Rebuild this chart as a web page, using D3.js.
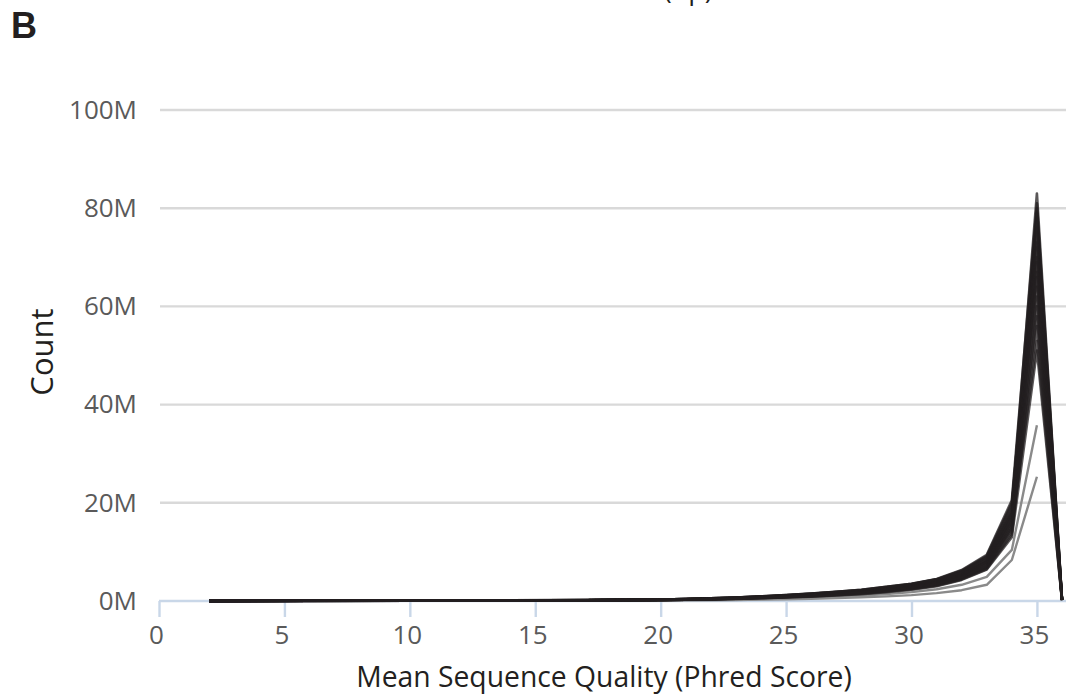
<!DOCTYPE html>
<html>
<head>
<meta charset="utf-8">
<script src="https://cdn.jsdelivr.net/npm/d3@7"></script>
<style>
  body { margin: 0; background: #fff; }
  text { font-family: "Open Sans", sans-serif; }
</style>
</head>
<body>
<script>
// phred score of each point (x axis)
const quality = [2, 6, 10, 14, 17, 20, 21, 22, 23, 24, 25, 26, 27, 28, 29, 30, 31, 32, 33, 34, 35, 36]

// read counts per sample, in millions, one value per quality above
const passSamples = [
  [.03, .05, .07, .10, .16, .28, .38, .50, .65, .85, 1.10, 1.35, 1.70, 2.1, 2.6, 3.2, 4.1, 5.8, 8.6, 18.5, 83, .25],
  [.03, .05, .08, .12, .18, .32, .42, .55, .72, .95, 1.20, 1.50, 1.85, 2.3, 2.9, 3.5, 4.5, 6.3, 9.4, 20.5, 81, .30],
  [.02, .04, .06, .09, .14, .25, .33, .44, .58, .75, .95, 1.20, 1.50, 1.9, 2.4, 2.9, 3.8, 5.4, 8.0, 17.0, 80, .22],
  [.03, .05, .07, .11, .17, .30, .40, .53, .70, .90, 1.15, 1.45, 1.80, 2.2, 2.8, 3.4, 4.3, 6.0, 8.9, 19.0, 79, .28],
  [.02, .04, .06, .09, .13, .24, .32, .42, .55, .70, .90, 1.15, 1.45, 1.8, 2.3, 2.8, 3.6, 5.1, 7.6, 16.0, 78, .20],
  [.03, .05, .07, .10, .15, .27, .36, .47, .62, .80, 1.05, 1.30, 1.60, 2.0, 2.5, 3.1, 4.0, 5.6, 8.3, 18.0, 76, .24],
  [.03, .05, .08, .12, .18, .32, .42, .55, .72, .95, 1.20, 1.50, 1.85, 2.3, 2.9, 3.5, 4.4, 6.2, 9.2, 20.0, 75, .30],
  [.02, .04, .05, .08, .12, .22, .30, .40, .52, .70, .90, 1.10, 1.40, 1.7, 2.2, 2.7, 3.5, 4.9, 7.2, 15.5, 73, .20],
  [.03, .05, .07, .10, .15, .27, .36, .47, .62, .80, 1.05, 1.30, 1.60, 2.0, 2.5, 3.0, 3.9, 5.5, 8.1, 17.5, 72, .24],
  [.03, .05, .07, .11, .17, .30, .40, .53, .70, .90, 1.15, 1.45, 1.80, 2.2, 2.8, 3.4, 4.4, 6.1, 9.0, 19.5, 70, .28],
  [.02, .03, .05, .07, .11, .20, .27, .36, .48, .62, .80, 1.00, 1.30, 1.6, 2.0, 2.5, 3.3, 4.6, 6.8, 14.5, 69, .18],
  [.02, .04, .06, .09, .14, .25, .33, .43, .57, .75, .95, 1.20, 1.50, 1.9, 2.3, 2.9, 3.7, 5.2, 7.7, 16.5, 67, .22],
  [.03, .05, .07, .10, .16, .28, .38, .50, .65, .85, 1.10, 1.35, 1.70, 2.1, 2.6, 3.2, 4.1, 5.8, 8.5, 18.0, 66, .26],
  [.02, .04, .05, .08, .12, .22, .29, .38, .50, .66, .85, 1.10, 1.35, 1.7, 2.1, 2.6, 3.4, 4.8, 7.0, 15.0, 64, .20],
  [.02, .04, .06, .09, .14, .26, .34, .45, .60, .78, 1.00, 1.25, 1.55, 1.9, 2.4, 2.9, 3.8, 5.3, 7.9, 17.0, 62, .22],
  [.02, .03, .05, .07, .10, .19, .26, .34, .45, .58, .75, .95, 1.20, 1.5, 1.9, 2.4, 3.1, 4.4, 6.5, 13.5, 60, .18],
  [.02, .04, .06, .08, .13, .23, .31, .41, .54, .70, .90, 1.15, 1.45, 1.8, 2.2, 2.8, 3.6, 5.0, 7.4, 16.0, 58, .20],
  [.02, .03, .05, .08, .12, .22, .29, .38, .50, .65, .85, 1.05, 1.30, 1.6, 2.0, 2.5, 3.2, 4.5, 6.7, 14.0, 56, .18],
  [.02, .04, .05, .08, .12, .22, .29, .38, .50, .66, .85, 1.10, 1.35, 1.7, 2.1, 2.6, 3.4, 4.8, 7.1, 15.0, 53, .20],
  [.02, .03, .04, .06, .10, .18, .24, .32, .42, .55, .70, .90, 1.15, 1.4, 1.8, 2.3, 3.0, 4.3, 6.4, 13.0, 51, .16]
]

// two samples with a lower peak, no count at 36
const warnSamples = [
  [.02, .02, .03, .05, .08, .13, .17, .22, .29, .38, .50, .65, .85, 1.1, 1.4, 1.8, 2.4, 3.3, 4.9, 10.4, 35.8, null],
  [.01, .02, .03, .04, .06, .09, .12, .15, .20, .27, .35, .45, .58, .75, .95, 1.2, 1.6, 2.2, 3.3, 8.35, 25.3, null]
]

const xTicks = [0, 5, 10, 15, 20, 25, 30, 35]
const yTicks = [0, 20, 40, 60, 80, 100]

const width = 1066, height = 696
const plotLeft = 159, plotRight = 1062, plotTop = 110, plotBottom = 601

let x = d3.scaleLinear().domain([0, 36]).range([plotLeft, plotRight])
let y = d3.scaleLinear().domain([0, 100]).range([plotBottom, plotTop])

let svg = d3.select("body")
  .append("svg")
  .attr("width", width)
  .attr("height", height)

// gridlines
svg.append("g")
  .selectAll("line")
  .data(yTicks.slice(1))
  .enter()
  .append("line")
  .attr("x1", plotLeft + 1)
  .attr("x2", width)
  .attr("y1", d => y(d))
  .attr("y2", d => y(d))
  .attr("stroke", "#d9d9d9")
  .attr("stroke-width", 2.4)

// y axis labels
let yAxis = svg.append("g")
  .attr("transform", "translate(" + (plotLeft - 22) + ",0)")
  .call(d3.axisLeft(y).tickValues(yTicks).tickFormat(d => d + "M").tickSize(0).tickPadding(0))
yAxis.select(".domain").remove()
yAxis.selectAll("text")
  .attr("fill", "#5a5a5a")
  .style("font-size", "26px")

// x axis
let xAxis = svg.append("g")
  .attr("transform", "translate(0," + plotBottom + ")")
  .call(d3.axisBottom(x).tickValues(xTicks).tickSize(16).tickPadding(9).tickSizeOuter(0))
xAxis.select(".domain")
  .attr("d", "M" + plotLeft + ",0H" + width)
  .attr("stroke", "#c9d7e8")
  .attr("stroke-width", 2.4)
xAxis.selectAll(".tick line")
  .attr("stroke", "#c9d7e8")
  .attr("stroke-width", 2.4)
xAxis.selectAll("text")
  .attr("fill", "#5a5a5a")
  .attr("dx", "-3")
  .style("font-size", "26px")

let line = d3.line()
  .defined(d => d != null)
  .x((d, i) => x(quality[i]))
  .y(d => y(d))

svg.append("g")
  .selectAll("path")
  .data(warnSamples)
  .enter()
  .append("path")
  .attr("d", line)
  .attr("fill", "none")
  .attr("stroke", "#8a8a8a")
  .attr("stroke-width", 2.4)
  .attr("stroke-linejoin", "round")

svg.append("g")
  .selectAll("path")
  .data(passSamples)
  .enter()
  .append("path")
  .attr("d", line)
  .attr("fill", "none")
  .attr("stroke", "#231f20")
  .attr("stroke-opacity", 0.75)
  .attr("stroke-width", 2.6)
  .attr("stroke-linejoin", "round")

// titles
svg.append("text")
  .attr("x", 604)
  .attr("y", 687)
  .attr("text-anchor", "middle")
  .attr("fill", "#231f20")
  .style("font-size", "28.3px")
  .text("Mean Sequence Quality (Phred Score)")

svg.append("text")
  .attr("transform", "translate(53,352) rotate(-90)")
  .attr("text-anchor", "middle")
  .attr("fill", "#231f20")
  .style("font-size", "31px")
  .text("Count")

// cut off axis title of the panel above
svg.append("text")
  .attr("x", 634)
  .attr("y", -1)
  .attr("text-anchor", "middle")
  .attr("fill", "#231f20")
  .style("font-size", "27px")
  .text("Position (bp)")

svg.append("text")
  .attr("x", 11)
  .attr("y", 38)
  .attr("fill", "#231f20")
  .style("font-family", "Liberation Sans, Arial, sans-serif")
  .style("font-weight", "bold")
  .style("font-size", "36px")
  .text("B")
</script>
</body>
</html>
